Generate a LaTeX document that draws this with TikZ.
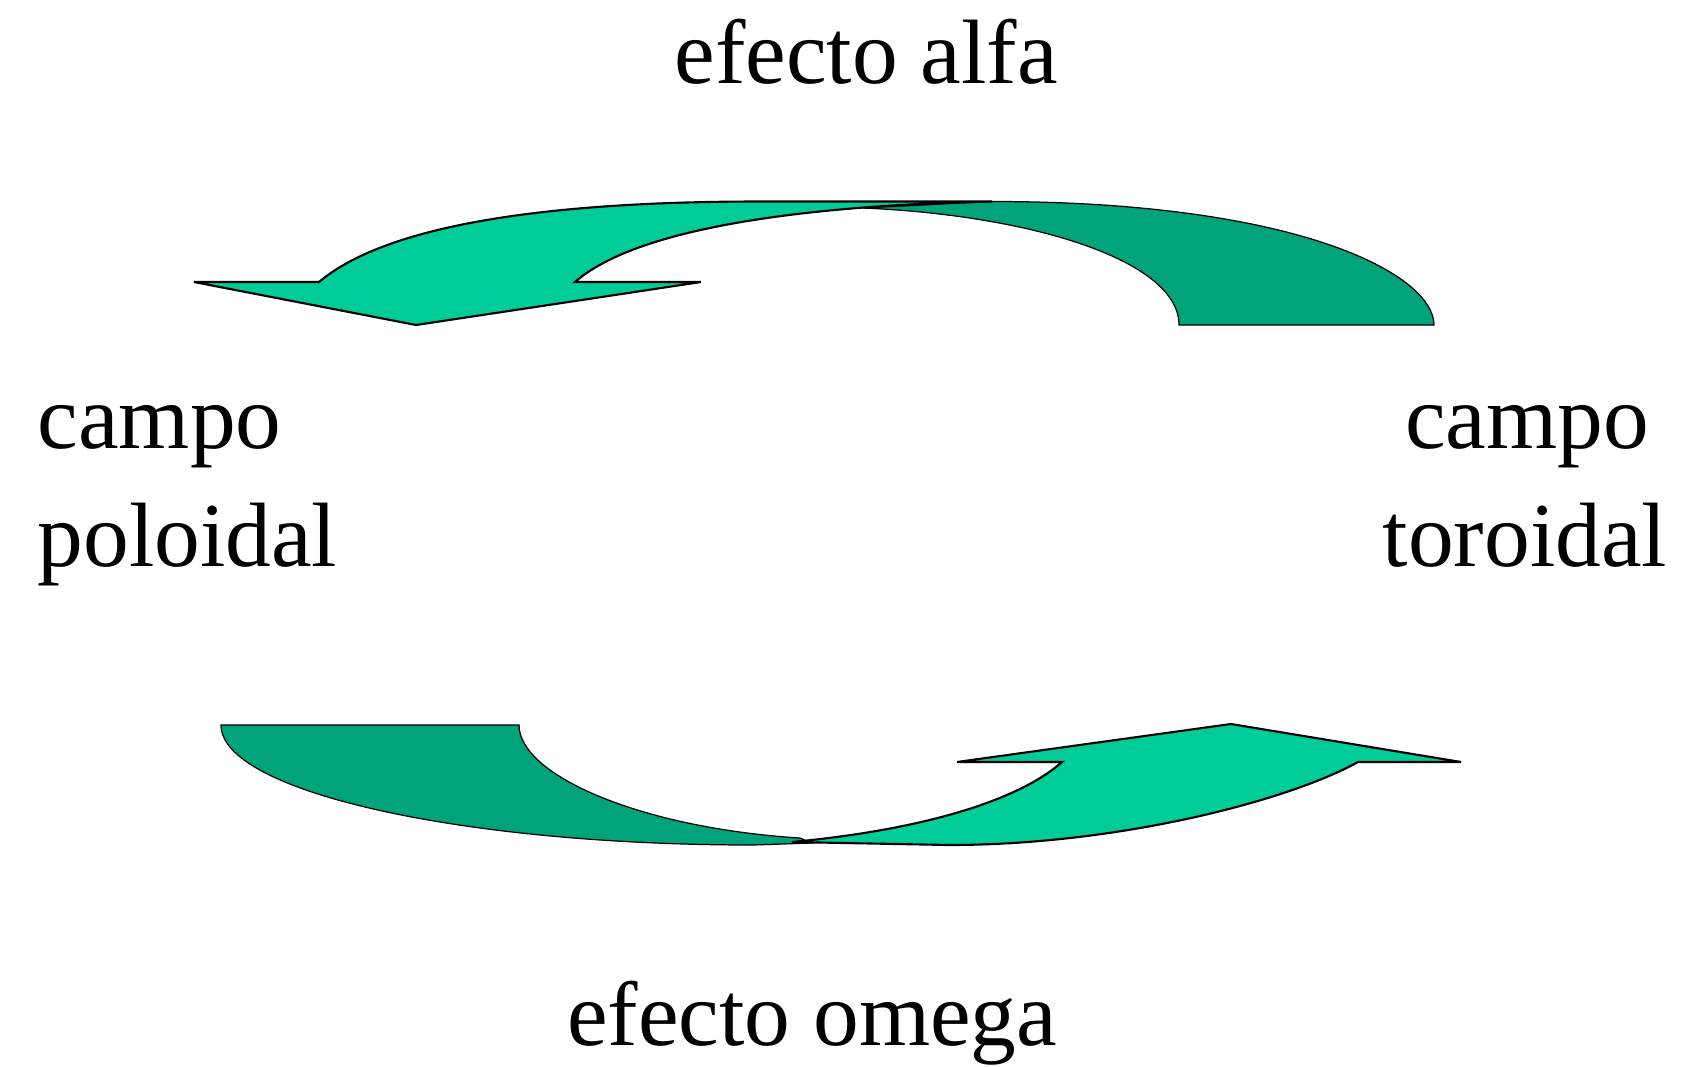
\documentclass[tikz,border=0pt]{standalone}
\usepackage{fontspec}
\setmainfont{Liberation Serif}
\usetikzlibrary{positioning}
\definecolor{frontGreen}{HTML}{00CC99}
\definecolor{backGreen}{HTML}{00A37A}

\begin{document}
\begin{tikzpicture}[x=0.01cm,y=-0.01cm,
  lbl/.style={font=\fontsize{26}{31}\selectfont,inner sep=0pt},
  front/.style={fill=frontGreen,draw=black,line width=0.6pt,line join=miter},
  back/.style={fill=backGreen,draw=black,line width=0.35pt}
]
  \useasboundingbox (0,0) rectangle (1681,1066);
  % labels
  \node[lbl,anchor=base] (alfa) at (866,83) {efecto alfa};
  \node[lbl,anchor=base west] (campoP) at (37,448) {campo};
  \node[lbl,anchor=base west] (poloidal) at (37,566) {poloidal};
  \node[lbl,anchor=base] (campoT) at (1527,448) {campo};
  \node[lbl,anchor=base] (toroidal) at (1525,566) {toroidal};
  \node[lbl,anchor=base] (omega) at (812,1045) {efecto omega};
  % upper curved arrow
  \draw[back] (1179,325) -- (1434,325)
    .. controls (1434,275) and (1300,201.5) .. (992,201.5)
    -- (863,208) .. controls (1030,215) and (1179,260) .. (1179,325) -- cycle;
  \draw[front] (194,282) -- (319,282)
    .. controls (390,222) and (560,201.5) .. (760,201.5) -- (992,201.5)
    .. controls (820,205) and (640,225) .. (575,282)
    -- (701,282) -- (416,325) -- cycle;
  % lower curved arrow
  \draw[back] (221,725) -- (519,725)
    .. controls (519,775) and (640,828) .. (800,838) -- (812,843) -- (753,845)
    .. controls (459,845) and (221,791) .. (221,725) -- cycle;
  \draw[front] (792,842) -- (949,845)
    .. controls (1120,845) and (1290,800) .. (1358,762)
    -- (1461,762) -- (1231,724) -- (957,762) -- (1062,762)
    .. controls (1025,795) and (940,828) .. (792,842) -- cycle;
\end{tikzpicture}
\end{document}
